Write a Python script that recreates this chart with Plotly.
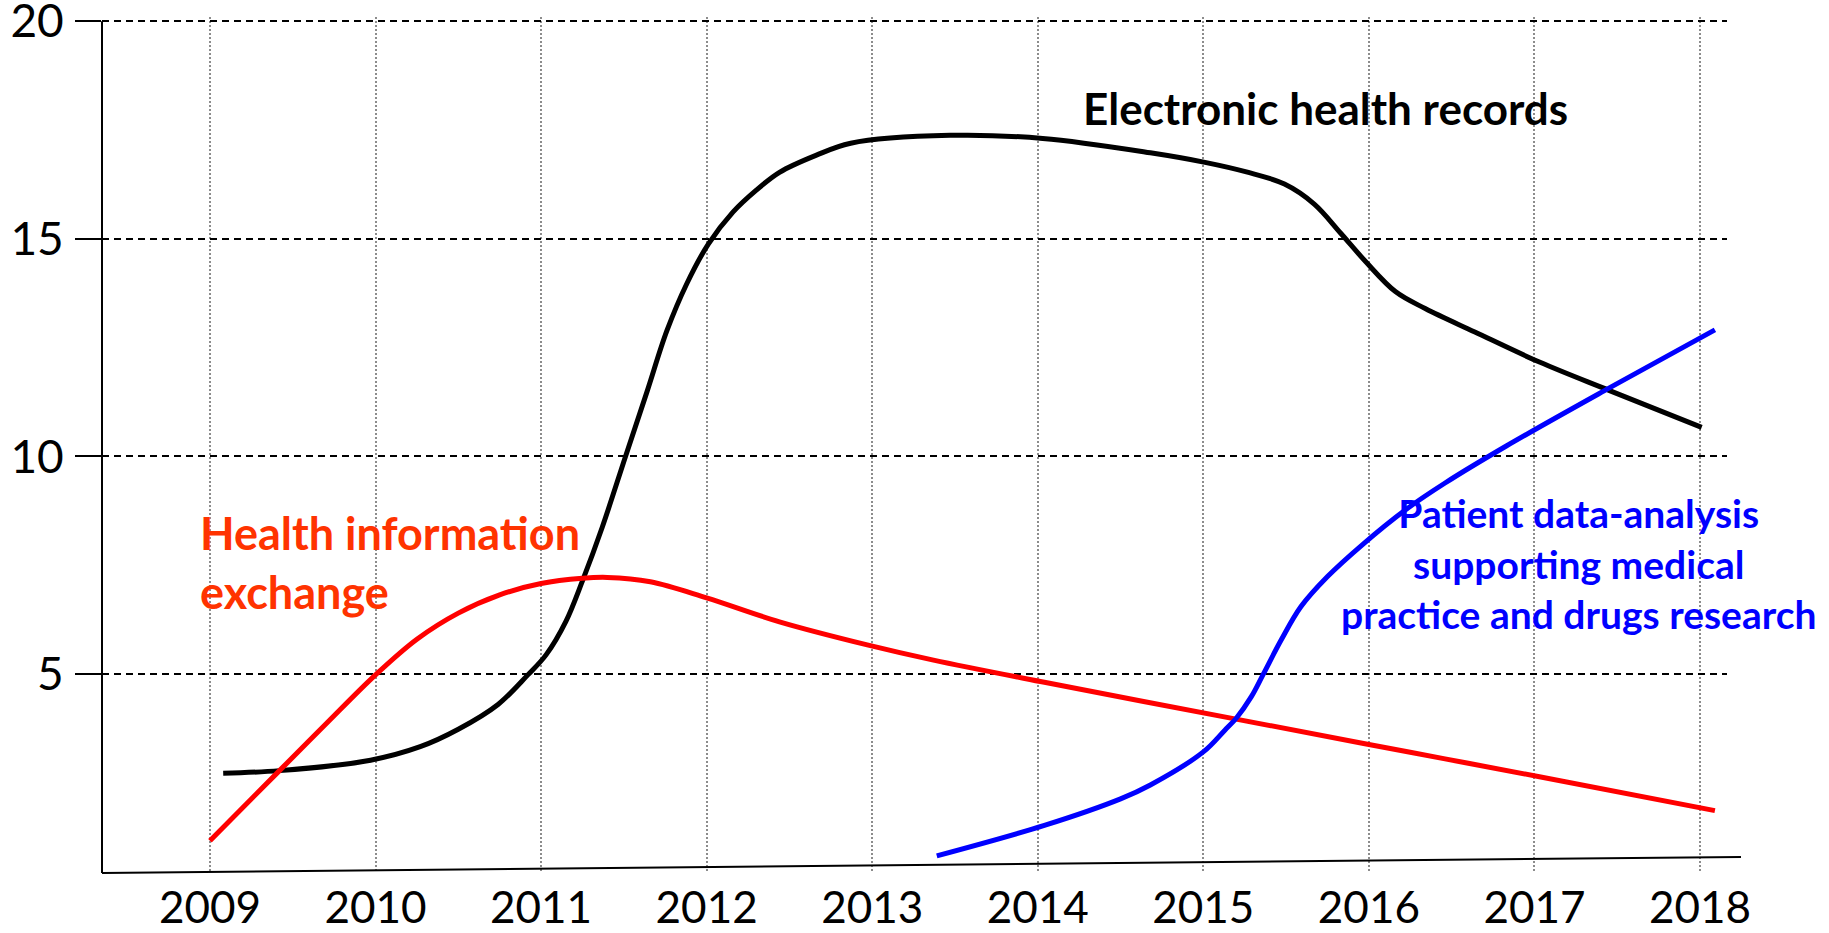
import plotly.graph_objects as go

# ---- data ----
years = [2009, 2010, 2011, 2012, 2013, 2014, 2015, 2016, 2017, 2018]
y_ticks = [5, 10, 15, 20]

ehr_x = [2009.08, 2009.42, 2009.97, 2010.27, 2010.50, 2010.74, 2010.92, 2011.03, 2011.15,
         2011.25, 2011.37, 2011.51, 2011.64, 2011.76, 2011.88, 2012.01, 2012.16, 2012.30,
         2012.44, 2012.66, 2012.87, 2013.47, 2014.03, 2014.68, 2015.01, 2015.26, 2015.49,
         2015.67, 2015.83, 2015.98, 2016.16, 2016.34, 2016.64, 2017.03, 2017.45, 2018.01]
ehr_y = [2.72, 2.78, 3.02, 3.33, 3.73, 4.30, 4.98, 5.44, 6.21,
         7.14, 8.38, 10.0, 11.49, 12.89, 13.97, 14.88, 15.62, 16.12,
         16.53, 16.92, 17.2, 17.38, 17.31, 16.98, 16.76, 16.54, 16.26,
         15.8, 15.13, 14.48, 13.79, 13.40, 12.86, 12.17, 11.52, 10.67]

hie_x = [2009.0, 2009.42, 2009.7, 2010.0, 2010.25, 2010.5, 2010.75, 2011.0, 2011.25,
         2011.4, 2011.66, 2012.0, 2012.44, 2012.97, 2013.37, 2014.04, 2015.19,
         2015.96, 2016.46, 2017.03, 2018.09]
hie_y = [1.17, 2.78, 3.85, 4.98, 5.80, 6.40, 6.82, 7.08, 7.20,
         7.22, 7.12, 6.75, 6.20, 5.67, 5.32, 4.81, 3.97,
         3.41, 3.05, 2.64, 1.86]

pda_x = [2013.39, 2014.04, 2014.50, 2014.68, 2015.0, 2015.13, 2015.20, 2015.29, 2015.36,
         2015.47, 2015.59, 2015.75, 2015.96, 2016.22, 2016.46, 2016.83, 2017.45, 2018.09]
pda_y = [0.82, 1.52, 2.13, 2.45, 3.21, 3.71, 3.99, 4.48, 4.98,
         5.78, 6.55, 7.24, 7.97, 8.77, 9.39, 10.24, 11.57, 12.91]

label_ehr = "Electronic health records"
label_hie = "Health information<br>exchange"
label_pda = "Patient data-analysis<br>supporting medical<br>practice and drugs research"

FONT = "Lato"
Y_MIN, Y_MAX = 0.427, 20.1

fig = go.Figure()
fig.add_trace(go.Scatter(x=ehr_x, y=ehr_y, mode="lines",
                         line=dict(color="#000000", width=5, shape="spline", smoothing=1.0),
                         hoverinfo="skip", showlegend=False))
fig.add_trace(go.Scatter(x=hie_x, y=hie_y, mode="lines",
                         line=dict(color="#FF0000", width=5, shape="spline", smoothing=1.0),
                         hoverinfo="skip", showlegend=False))
fig.add_trace(go.Scatter(x=pda_x, y=pda_y, mode="lines",
                         line=dict(color="#0000FF", width=5, shape="spline", smoothing=1.0),
                         hoverinfo="skip", showlegend=False))

fig.add_annotation(x=2015.735, y=18.0, xref="x", yref="y", text=label_ehr, showarrow=False,
                   font=dict(family=FONT, size=44, color="#000000", weight="bold"),
                   xanchor="center", yanchor="middle")
fig.add_annotation(x=2008.93, y=7.57, xref="x", yref="y", text=label_hie, showarrow=False,
                   font=dict(family=FONT, size=45, color="#FF3300", weight="bold"),
                   xanchor="left", yanchor="middle", align="left")
fig.add_annotation(x=2017.27, y=7.53, xref="x", yref="y", text=label_pda, showarrow=False,
                   font=dict(family=FONT, size=39, color="#0000FF", weight="bold"),
                   xanchor="center", yanchor="middle", align="center")

# left axis line (from bottom to the 20 level) and slanted bottom axis line
fig.add_shape(type="line", xref="paper", yref="y", x0=0, x1=0, y0=Y_MIN, y1=20,
              line=dict(color="#000000", width=2))
fig.add_shape(type="line", xref="paper", yref="paper", x0=0, y0=0, x1=1.0086, y1=0.0188,
              line=dict(color="#000000", width=2))

fig.update_layout(
    width=1829, height=933,
    margin=dict(l=102, r=102, t=17, b=60, autoexpand=False),
    paper_bgcolor="white", plot_bgcolor="white",
    font=dict(family=FONT, size=46, color="#000000"),
)
fig.update_xaxes(range=[2008.348, 2018.163], tickmode="array", tickvals=years,
                 ticktext=[str(y) for y in years], automargin=False,
                 showgrid=True, gridcolor="#8c8c8c", gridwidth=1.5, griddash="2px,2px",
                 showline=False, zeroline=False, ticks="", ticklabelstandoff=5,
                 ticklabeloverflow="allow",
                 tickfont=dict(family=FONT, size=44, color="#000000"))
fig.update_yaxes(range=[Y_MIN, Y_MAX], tickmode="array", tickvals=y_ticks,
                 ticktext=[str(v) for v in y_ticks], automargin=False,
                 showgrid=True, gridcolor="#000000", gridwidth=1.5, griddash="7px,5px",
                 showline=False, zeroline=False,
                 ticks="outside", ticklen=26, tickwidth=2, tickcolor="#000000",
                 ticklabelstandoff=2, ticklabeloverflow="allow",
                 tickfont=dict(family=FONT, size=46, color="#000000"))

fig.write_html("out.html", config={"displayModeBar": False},
               post_script="document.body.style.margin='0';document.body.style.overflow='hidden';")
